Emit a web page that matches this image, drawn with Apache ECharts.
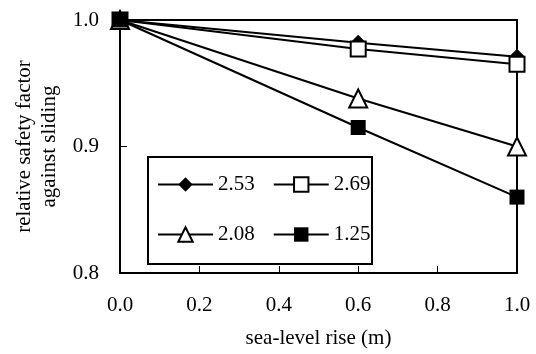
<!DOCTYPE html>
<html><head><meta charset="utf-8">
<script src="https://cdn.jsdelivr.net/npm/echarts@6/dist/echarts.min.js"></script>
<style>html,body{margin:0;padding:0;background:#fff}#c{width:536px;height:354px}</style>
</head><body><div id="c"></div>
<script>
var xValues = [0.0, 0.6, 1.0];
var s253 = [1.0, 0.982, 0.971];
var s269 = [1.0, 0.977, 0.965];
var s208 = [1.0, 0.938, 0.900];
var s125 = [1.0, 0.915, 0.860];
var seriesNames = ['2.53', '2.69', '2.08', '1.25'];

var FONT = 'Liberation Serif';
var FS = 21;
function pts(v){ return xValues.map(function(x,i){return [x, v[i]];}); }
function mk(name, data, symbol, size, fill){
  return {
    name: name, type: 'line', data: pts(data), symbol: symbol, symbolSize: size,
    lineStyle: {color: '#000', width: 2},
    itemStyle: {color: fill, borderColor: '#000', borderWidth: fill === '#fff' ? 2 : 0},
    emphasis: {disabled: true}, animation: false
  };
}
var chart = echarts.init(document.getElementById('c'));
var legendCommon = {
  orient: 'horizontal', itemWidth: 55, itemHeight: 18, itemGap: 18,
  textStyle: {fontFamily: FONT, fontSize: FS, color: '#000'}, padding: 0,
  selectedMode: false
};
chart.setOption({
  animation: false,
  grid: {left: 120, right: 19, top: 20, bottom: 81, show: true, borderColor: '#000', borderWidth: 2,
         backgroundColor: 'transparent', outerBoundsMode: 'none', containLabel: false},
  xAxis: {
    type: 'value', min: 0, max: 1, interval: 0.2,
    name: 'sea-level rise (m)', nameLocation: 'middle', nameGap: 55,
    nameTextStyle: {fontFamily: FONT, fontSize: FS, color: '#000'},
    axisLine: {lineStyle: {color: '#000', width: 2}},
    axisTick: {inside: true, length: 7, lineStyle: {color: '#000', width: 1}},
    axisLabel: {fontFamily: FONT, fontSize: FS, color: '#000', margin: 22, formatter: function(v){return v.toFixed(1);}},
    splitLine: {show: false}
  },
  yAxis: {
    type: 'value', min: 0.8, max: 1.0, interval: 0.1,
    name: 'relative safety factor\nagainst sliding', nameLocation: 'middle', nameGap: 54, nameRotate: 90,
    nameTextStyle: {fontFamily: FONT, fontSize: FS, color: '#000', lineHeight: 25, align: 'center'},
    axisLine: {lineStyle: {color: '#000', width: 2}},
    axisTick: {inside: true, length: 7, lineStyle: {color: '#000', width: 1}},
    axisLabel: {fontFamily: FONT, fontSize: FS, color: '#000', margin: 21, formatter: function(v){return v.toFixed(1);}},
    splitLine: {show: false}
  },
  legend: [
    Object.assign({data: [seriesNames[0], seriesNames[1]], left: 157, top: 174}, legendCommon),
    Object.assign({data: [seriesNames[2], seriesNames[3]], left: 157, top: 224}, legendCommon)
  ],
  graphic: [{
    type: 'rect', left: 147, top: 156, z: 0,
    shape: {width: 224, height: 107},
    style: {fill: '#fff', stroke: '#000', lineWidth: 2}
  }],
  series: [
    mk(seriesNames[0], s253, 'diamond', 16, '#000'),
    mk(seriesNames[1], s269, 'rect', 15, '#fff'),
    mk(seriesNames[2], s208, 'triangle', 18, '#fff'),
    mk(seriesNames[3], s125, 'rect', 15, '#000')
  ]
});
</script></body></html>
